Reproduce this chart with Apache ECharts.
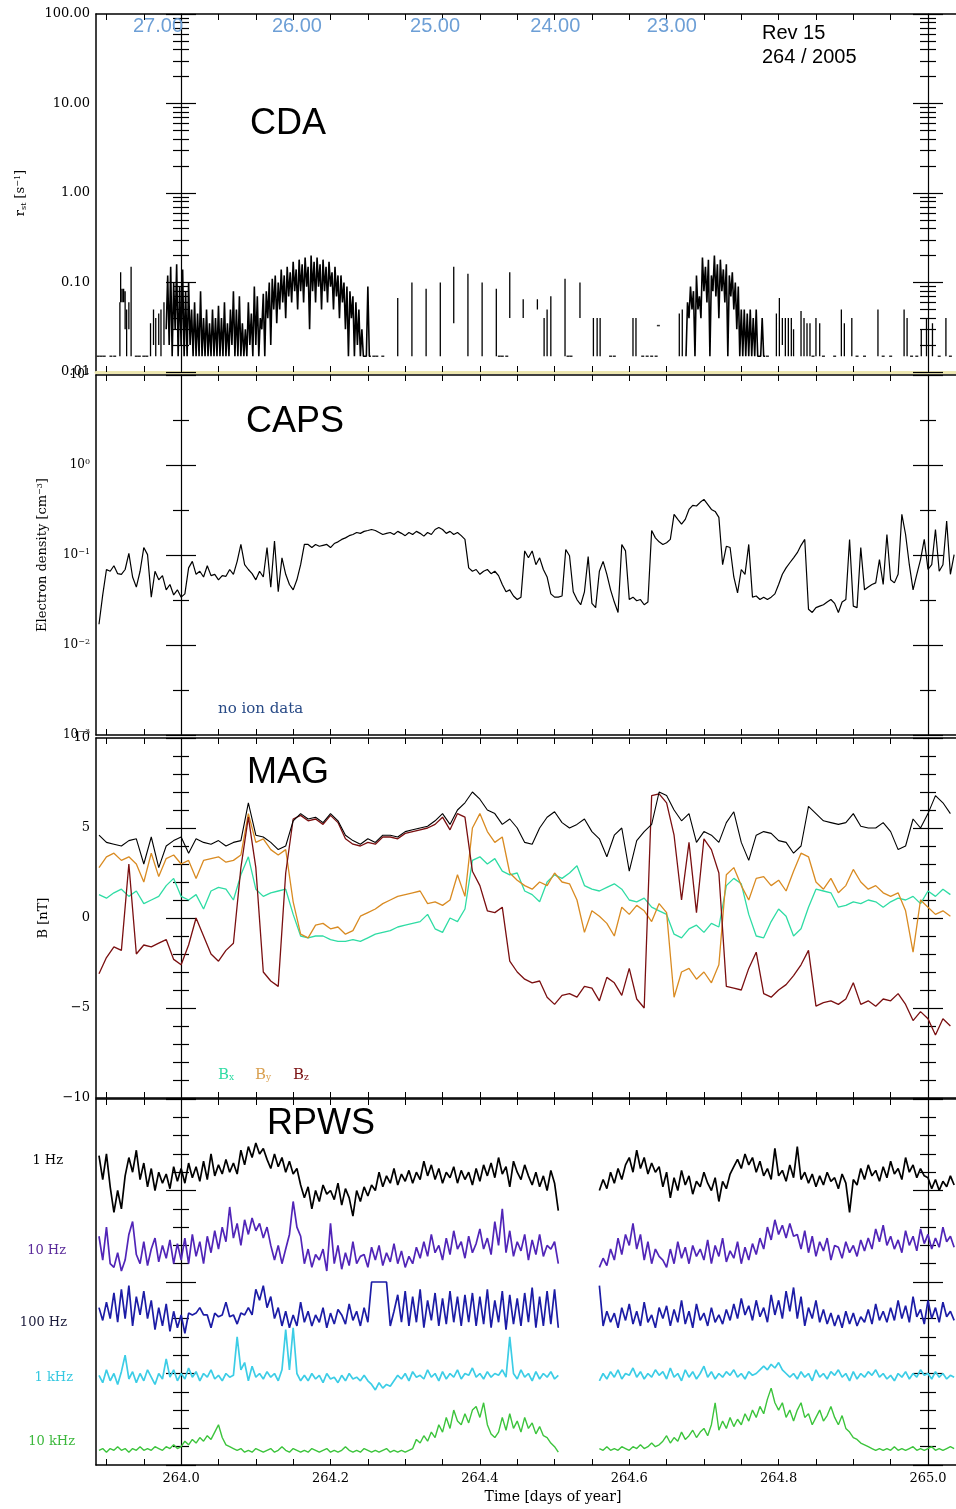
<!DOCTYPE html>
<html><head><meta charset="utf-8">
<script src="https://cdn.jsdelivr.net/npm/echarts@6/dist/echarts.min.js"></script>
<style>html,body{margin:0;padding:0;background:#fff}#c{width:956px;height:1509px}</style>
</head><body><div id="c"></div>
<script>
// ---------------- DATA ----------------
// time axis (days of year 2005)
const xTickDays = [263.90,263.95,264.00,264.05,264.10,264.15,264.20,264.25,264.30,264.35,264.40,264.45,264.50,264.55,264.60,264.65,264.70,264.75,264.80,264.85,264.90,264.95,265.00];
const xLabelDays = [264.0,264.2,264.4,264.6,264.8,265.0];
// radial distance labels along the top
const distLabels = ['27.00','26.00','25.00','24.00','23.00'];
const distDays = [263.969,264.155,264.340,264.501,264.657];

// CDA: isolated spikes (time, low, high)
const cdaSpikeT  = [263.918,263.919,263.921,263.923,263.925,263.927,263.930,263.933,263.959,263.963,263.966,263.970,263.973,263.977,
  264.290,264.309,264.328,264.347,264.365,264.384,264.403,264.422,264.440,264.458,264.477,264.486,264.490,264.495,264.514,264.534,264.552,264.557,264.561,264.605,264.609,264.667,264.671,
  264.797,264.801,264.805,264.809,264.813,264.817,264.820,264.830,264.834,264.838,264.842,264.850,264.855,264.884,264.888,264.898,264.933,264.968,264.972,264.991,264.998,265.006,265.024];
const cdaSpikeLo = [0.015,0.06,0.06,0.06,0.03,0.015,0.03,0.015,0.015,0.02,0.015,0.02,0.015,0.02,
  0.015,0.015,0.015,0.015,0.035,0.015,0.015,0.015,0.04,0.04,0.05,0.015,0.015,0.015,0.015,0.04,0.015,0.015,0.015,0.015,0.015,0.015,0.015,
  0.015,0.015,0.02,0.015,0.015,0.015,0.015,0.015,0.015,0.015,0.015,0.015,0.015,0.015,0.015,0.015,0.015,0.015,0.015,0.015,0.015,0.015,0.015];
const cdaSpikeHi = [0.06,0.13,0.085,0.085,0.08,0.05,0.06,0.15,0.035,0.05,0.04,0.045,0.05,0.06,
  0.067,0.10,0.085,0.10,0.15,0.125,0.10,0.085,0.13,0.065,0.065,0.04,0.05,0.07,0.11,0.10,0.04,0.04,0.04,0.04,0.04,0.045,0.05,
  0.045,0.067,0.04,0.04,0.04,0.04,0.03,0.048,0.04,0.035,0.035,0.04,0.035,0.05,0.035,0.04,0.05,0.05,0.04,0.03,0.04,0.035,0.04];
// CDA: dense burst 1 (pairs of low/high every 0.004 day from 263.980)
const cdaBurst1Start = 263.980, cdaBurst1Step = 0.004;
const cdaBurst1Lo = [0.03,0.02,0.015,0.03,0.015,0.02,0.015,0.015,0.02,0.015,0.015,0.015,0.015,0.015,0.015,0.015,0.015,0.015,0.015,0.015,0.015,0.015,0.02,0.015,0.015,0.015,0.015,0.015,0.02,0.015,0.02,0.015,0.03,0.015,0.04,0.02,0.05,0.035,0.05,0.06,0.04,0.07,0.06,0.08,0.05,0.08,0.06,0.09,0.03,0.08,0.06,0.09,0.05,0.08,0.06,0.09,0.05,0.07,0.04,0.06,0.03,0.015,0.04,0.015,0.02,0.015,0.015,0.015,0.015];
const cdaBurst1Hi = [0.12,0.15,0.10,0.16,0.09,0.14,0.08,0.10,0.05,0.06,0.045,0.08,0.04,0.05,0.035,0.05,0.04,0.055,0.04,0.06,0.035,0.05,0.08,0.05,0.07,0.035,0.03,0.06,0.045,0.09,0.07,0.04,0.075,0.08,0.10,0.11,0.12,0.10,0.14,0.12,0.15,0.13,0.17,0.14,0.18,0.16,0.19,0.15,0.20,0.17,0.19,0.16,0.18,0.15,0.17,0.13,0.15,0.12,0.12,0.10,0.09,0.08,0.07,0.06,0.05,0.03,0.015,0.09,0.015];
// CDA: dense burst 2
const cdaBurst2Start = 264.676, cdaBurst2Step = 0.004;
const cdaBurst2Lo = [0.015,0.04,0.05,0.015,0.05,0.04,0.08,0.06,0.015,0.08,0.07,0.04,0.08,0.06,0.015,0.07,0.05,0.03,0.015,0.015,0.015,0.015,0.015,0.015,0.015,0.015,0.015];
const cdaBurst2Hi = [0.06,0.09,0.08,0.12,0.07,0.19,0.15,0.18,0.12,0.20,0.16,0.18,0.14,0.16,0.12,0.13,0.10,0.09,0.05,0.05,0.045,0.05,0.04,0.05,0.015,0.04,0.015];
// CDA: background-level points
const cdaDotT = [263.889,263.893,263.897,263.906,263.911,263.940,263.944,263.950,263.954,264.258,264.262,264.270,264.426,264.430,264.436,264.518,264.522,264.575,264.580,264.618,264.624,264.630,264.636,264.639,264.785,264.846,264.860,264.875,264.905,264.915,264.940,264.950,264.978,264.985,265.015,265.030];
const cdaDotV = [0.015,0.015,0.015,0.015,0.015,0.015,0.015,0.015,0.015,0.015,0.015,0.015,0.015,0.015,0.015,0.015,0.015,0.015,0.015,0.015,0.015,0.015,0.015,0.033,0.015,0.015,0.015,0.015,0.015,0.015,0.015,0.015,0.015,0.015,0.015,0.015];

// CAPS electron density [cm^-3], sampled every 0.005 day from 263.890
const capsStart = 263.890, capsStep = 0.005;
const capsNe = [0.017,0.036,0.069,0.066,0.076,0.062,0.061,0.069,0.104,0.057,
 0.044,0.066,0.121,0.101,0.034,0.066,0.053,0.059,0.041,0.047,
 0.036,0.041,0.034,0.037,0.072,0.085,0.061,0.066,0.057,0.076,
 0.059,0.061,0.053,0.059,0.058,0.069,0.061,0.085,0.131,0.078,
 0.069,0.062,0.053,0.066,0.057,0.121,0.044,0.143,0.039,0.093,
 0.061,0.047,0.041,0.053,0.078,0.131,0.131,0.121,0.131,0.125,
 0.128,0.131,0.121,0.134,0.140,0.149,0.155,0.164,0.169,0.178,
 0.174,0.183,0.187,0.192,0.187,0.178,0.169,0.174,0.178,0.169,
 0.183,0.174,0.164,0.178,0.169,0.183,0.174,0.162,0.178,0.169,
 0.192,0.202,0.192,0.174,0.183,0.169,0.178,0.164,0.149,0.072,
 0.066,0.069,0.061,0.066,0.069,0.062,0.066,0.059,0.047,0.039,
 0.041,0.035,0.032,0.034,0.111,0.093,0.111,0.078,0.093,0.069,
 0.057,0.037,0.034,0.034,0.035,0.115,0.098,0.039,0.032,0.028,
 0.039,0.096,0.029,0.026,0.066,0.085,0.061,0.041,0.030,0.023,
 0.131,0.111,0.032,0.034,0.031,0.032,0.028,0.030,0.187,0.155,
 0.140,0.131,0.137,0.149,0.283,0.249,0.220,0.249,0.321,0.356,
 0.350,0.385,0.415,0.366,0.321,0.305,0.262,0.078,0.125,0.121,
 0.057,0.038,0.069,0.061,0.131,0.034,0.035,0.032,0.034,0.032,
 0.034,0.037,0.047,0.061,0.072,0.082,0.093,0.106,0.128,0.149,
 0.025,0.023,0.026,0.027,0.028,0.030,0.032,0.029,0.023,0.030,
 0.032,0.149,0.027,0.026,0.121,0.041,0.044,0.047,0.049,0.089,
 0.047,0.169,0.053,0.049,0.061,0.283,0.169,0.078,0.041,0.061,
 0.089,0.149,0.069,0.078,0.192,0.066,0.078,0.238,0.061,0.101];

// MAG [nT], sampled every 0.01 day from 263.890
const magStart = 263.890, magStep = 0.01;
const magBt = [4.6,4.2,4.1,4.0,4.3,4.4,3.0,4.5,2.8,4.0, 4.3,4.5,3.6,4.4,4.2,4.1,4.3,4.0,4.2,4.3,
 6.4,4.6,4.5,4.2,3.8,4.0,5.4,5.8,5.5,5.6, 5.3,5.8,5.4,4.6,4.3,4.1,4.4,4.2,4.6,4.6,
 4.5,4.8,4.9,5.0,5.1,5.4,5.8,5.2,6.0,6.4, 7.0,6.6,6.0,5.8,5.2,5.5,5.0,4.2,4.1,5.0,
 5.6,5.9,5.3,5.0,5.2,5.5,4.8,4.4,3.4,4.6, 5.0,2.6,4.3,4.8,5.2,7.0,6.8,6.0,5.4,5.8,
 4.2,4.8,4.6,4.2,5.3,5.9,4.2,3.2,4.6,4.8, 4.7,4.3,4.2,3.6,4.0,6.2,5.8,5.4,5.3,5.2,
 5.3,5.8,5.1,5.0,5.0,5.3,4.8,3.8,4.0,5.5, 5.0,5.8,6.8,6.4,5.8];
const magBx = [1.3,1.1,1.4,1.6,1.2,1.5,0.8,1.0,1.2,1.8, 2.2,1.2,1.0,1.3,0.5,1.5,1.7,1.6,1.0,2.4,
 3.4,1.6,1.2,1.4,1.5,1.6,0.2,-1.0,-1.1,-1.0, -1.0,-1.2,-1.3,-1.3,-1.2,-1.3,-1.1,-0.9,-0.8,-0.7,
 -0.5,-0.4,-0.3,-0.2,0.2,-0.6,-0.8,0.0,-0.2,0.5, 3.2,3.4,3.0,3.3,2.6,2.4,2.5,1.5,1.3,0.9,
 2.0,2.4,2.2,2.5,2.9,1.8,1.6,1.5,1.7,1.9, 1.6,1.0,0.9,1.1,0.6,0.4,0.2,-0.9,-1.1,-0.6,
 -0.4,-0.8,-0.3,-0.5,1.8,2.2,1.9,0.2,-1.0,-1.1, -0.2,0.5,0.1,-1.0,-0.6,0.6,1.6,1.5,1.4,0.6,
 0.7,0.9,0.8,1.0,0.9,0.6,0.9,1.1,1.0,1.2, 0.8,1.5,1.2,1.6,1.3];
const magBy = [2.8,3.4,3.6,3.2,3.4,3.0,2.0,3.6,2.3,3.3, 3.5,3.0,3.2,2.2,3.2,3.3,3.4,3.1,3.2,3.5,
 5.8,4.2,4.4,3.8,3.5,3.8,0.9,-0.9,-1.1,-0.4, -0.3,-0.6,-0.5,-0.9,-0.7,0.1,0.3,0.5,0.8,1.0,
 1.2,1.3,1.4,1.5,0.8,0.9,0.7,1.0,2.4,1.2, 5.0,5.8,4.8,4.2,4.5,2.5,2.1,1.8,1.6,2.0,
 1.8,2.5,2.0,1.9,1.0,-0.8,0.4,0.1,-0.3,-1.0, 0.6,0.2,0.7,0.4,-0.2,0.8,0.3,-4.4,-3.0,-2.8,
 -3.4,-3.0,-3.6,-2.6,2.4,2.8,1.8,1.0,2.2,2.3, 1.8,2.1,1.5,2.6,3.6,3.4,2.0,1.6,2.2,1.4,
 1.8,2.7,2.0,1.6,1.8,1.4,1.2,1.4,0.4,-1.9, 1.0,0.6,0.2,0.4,0.1];
const magBz = [-3.1,-2.2,-1.6,-1.8,3.0,-2.0,-1.5,-1.6,-1.4,-1.2, -2.3,-2.6,-1.5,0.0,-1.0,-2.0,-2.4,-1.8,-1.4,2.8,
 5.6,2.8,-3.0,-3.5,-3.8,2.5,5.5,5.7,5.4,5.5, 5.2,5.7,5.3,4.4,4.1,4.0,4.2,4.1,4.5,4.5,
 4.4,4.7,4.8,4.9,5.0,5.2,5.6,4.9,5.8,5.6, 2.6,1.8,0.4,0.3,0.6,-2.4,-3.0,-3.4,-3.6,-3.5,
 -4.4,-4.8,-4.3,-4.2,-4.4,-3.8,-3.9,-4.6,-3.3,-3.6, -4.3,-2.8,-4.5,-5.0,6.8,6.9,6.4,4.6,1.0,4.2,
 0.3,4.4,3.8,2.5,-3.8,-3.9,-4.0,-2.8,-1.9,-4.2, -4.4,-4.0,-3.7,-3.2,-2.6,-1.8,-4.9,-4.7,-4.6,-4.8,
 -4.5,-3.6,-4.8,-4.6,-4.9,-4.5,-4.6,-4.2,-4.8,-5.7, -5.2,-5.6,-6.5,-5.6,-6.0];

// RPWS stacked channels (arbitrary offset units), sampled every 0.005 day from 263.890; null = data gap
const rpwsStart = 263.890, rpwsStep = 0.005;
const rpwsChannels = ['1 Hz','10 Hz','100 Hz','1 kHz','10 kHz'];
const rpws1Hz = [16.9,15.6,17.0,15.2, 13.8,15.0,14.0,15.8, 16.8,16.0,17.2,15.6,16.5,
 15.2,16.2,15.0,16.0,15.4,15.9,15.1,16.3,15.5, 16.2,15.4,16.5,15.7,16.3,15.5,
 16.6,15.6,17.0,15.8,16.4,15.9,16.7,16.0,16.5,15.9, 17.2,16.4,17.4,16.8,17.6,17.0,17.3,16.7,
 16.2,17.0,16.3,16.8,16.0,16.6,15.9,16.2, 15.3,14.6,15.2,14.0,15.0,14.4,15.3,14.8,15.0,
 14.5,15.4,14.2,15.1,14.6,13.6,15.0,14.4,15.2,14.7,15.3, 15.0,16.0,15.2,15.8,15.4,16.2,15.3,15.9,15.5,16.1,15.4,16.0,15.6,
 16.6,15.8,16.4,15.6,16.2,15.4,16.0,15.7,16.3, 15.4,16.1,15.6,16.0,15.3,16.2,15.5,16.4,15.8,
 16.5,15.7,16.8,15.9,16.3,15.2,16.6,16.0,15.6,16.4,15.8, 15.3,16.0,15.2,15.8,15.0,16.1,15.4,13.9,
 null,null,null,null,null,null,null,null,null,null,
 15.0,15.6,15.1,16.0,15.4,16.2,15.6,16.4, 16.8,16.0,17.2,16.2,16.8,15.9,16.5,16.0,16.3,
 15.2,16.0,14.6,15.7,15.0,16.1,15.3,15.8,14.8,15.5,15.2,16.0,15.4, 15.0,15.7,14.4,15.5,15.1,15.9,16.3,
 16.7,16.2,17.0,16.4,16.8,16.0,16.6,15.8, 16.2,15.6,17.3,15.8,16.1,15.5,16.4,15.7,17.4,15.6,16.0,
 15.4,15.9,15.2,15.8,15.3,16.0,15.5,15.7,15.1,15.9,15.4,13.8,15.6,15.3,
 16.2,15.6,16.4,15.8,16.1,15.5,16.3,15.7,16.6,15.9,16.2,15.6,16.8,16.0,16.4,15.7,16.2,15.8,
 15.7,15.1,15.6,15.0,15.5,15.2,15.8,15.3];
const rpws10Hz = [12.5,11.2,13.0,11.0, 10.8,11.6,10.6,11.2, 12.6,13.3,11.5,
 11.0,12.2,10.9,11.8,12.4,11.1,12.0,11.3,12.3,11.0,12.1, 11.2,12.4,11.0,12.6,11.4,12.2,11.0,12.5,11.6,
 12.8,11.8,13.0,12.2,14.1,12.4,13.2,12.0, 13.4,12.6,13.5,12.8,13.2,12.4,13.0,12.0,
 11.2,12.0,11.0,11.8,12.6, 14.4,13.0,12.5, 11.0,11.8,10.8,11.5,11.2,
 11.8,10.6,13.2,11.0,12.0,10.7,11.6,10.9,12.2,11.0,11.4,
 11.5,10.8,11.9,11.2,12.0,10.9,11.6,11.1,12.1,11.0,11.7,10.8,11.4,11.0,11.9,11.3,
 12.2,11.4,12.6,11.6,12.0,11.2,12.4,11.5,12.8,11.8,12.2,11.3,12.5,11.6,12.1,
 12.9,11.8,12.4,11.5,13.3,12.0,14.0,11.6,12.8,11.4,12.2,11.7,12.6,11.2,
 12.3,11.5,12.6,11.4,12.0,11.8,12.2,11.0,
 null,null,null,null,null,null,null,null,null,null,
 10.8,11.3,10.9,11.8,11.2,12.4,11.5,12.6, 12.0,13.2,11.8,12.6,11.2,12.2,11.0,11.8,11.4,
 11.2,10.8,11.8,11.0,12.2,11.3,11.9,11.0,12.0,11.4, 11.8,11.2,12.3,11.0,12.0,11.4,12.4,11.1,11.7,
 11.3,12.2,11.0,11.9,11.2,12.1,11.5,12.4,11.8, 13.0,12.3,13.4,12.6,13.1,12.4,13.2,12.5,
 12.6,11.8,12.8,11.6,12.5,11.4,12.2,11.7,12.4,11.2,12.0, 11.9,11.3,12.2,11.6,12.0,11.4,12.3,11.7,
 12.4,11.8,12.9,12.2,13.1,12.0,12.5,11.8,
 12.3,11.6,12.8,12.0,12.5,11.7,12.9,12.1,12.6,11.8,12.4,11.9,13.0,12.2,12.5,11.9];
const rpws100Hz = [8.6,7.9,8.9,8.0, 9.4,7.8,9.6,8.0,9.8,7.6,9.2,8.2,9.5,
 8.0,9.0,7.4,8.6,7.6,8.8,7.3,8.4,7.5,8.2,7.2,8.3,
 8.2,8.3,8.6,8.2,8.2,7.5,8.3,8.1,8.2,8.9,8.1,8.2,7.7,8.3,8.2,8.6,8.2,
 9.6,9.0,9.8,8.6,9.2, 8.0,8.6,7.6,8.4,7.5,8.2,7.6,8.9,7.8, 8.4,7.6,8.2,7.8,8.6,7.5,8.3,7.7,8.5,
 8.2,7.7,8.8,7.9,8.4,7.6,8.6,7.8,10.0,10.0, 10.0,10.0,10.0,7.6,
 8.4,9.3,7.8,9.5,7.6,9.2,7.8,9.6,7.5,9.0,7.9,9.4,7.6,9.1,7.7,9.5,7.8,9.2,7.6,9.3,
 7.8,9.4,7.6,9.2,7.7,9.6,7.5,9.0,7.8,9.5,7.4,9.3,7.7,9.1,7.6,9.4,7.8,9.7,7.5,9.2,7.6,9.5,7.7,9.6,7.5,
 null,null,null,null,null,null,null,null,null,null,
 9.8,7.6,8.4,7.8,8.3,7.5,8.6,7.9,8.8,7.7,8.4,7.6,8.9,7.8,8.2,7.5,8.6,
 8.0,8.7,7.6,8.5,7.8,9.0,7.7,8.4,7.5,8.8,7.9,8.3,7.6,8.6,7.8,8.2,7.7,
 8.5,7.9,8.8,8.0,9.1,8.2,8.7,7.9,9.0,8.1,8.6,7.8,9.3,8.2,9.0,8.0,
 9.5,8.4,9.7,8.0,9.2,7.6,
 8.6,8.0,9.0,7.8,8.5,7.7,8.3,7.6,8.2,7.5,8.4,7.7,8.3,7.6,8.1,7.8,8.5,7.7,8.8,7.9,8.4,7.8,
 8.6,7.9,9.0,8.0,8.7,7.8,9.2,8.1,8.5,7.7,9.0,8.0,8.6,7.8,8.9,8.1,8.4,7.9];
const rpws1kHz = [4.9,4.5,5.2,4.6,5.0,4.4,5.1,6.0,
 4.7,5.1,4.5,5.0,4.6,5.2,4.8,4.4,5.0,4.7,5.8,
 4.8,5.2,4.6,5.0,4.7,5.3,4.8,5.1,4.6,5.0,4.8,5.2,4.7,4.9,4.6,5.0,4.8,4.9,
 7.0,5.2,5.6,4.6,5.4,4.8, 5.0,4.7,5.1,4.8,5.0,4.6,5.2,7.4, 5.2,7.5,5.0,4.6,
 4.9,4.6,5.0,4.7,4.9,4.5,5.0,4.7,4.8,4.5,4.9,4.6,5.0,4.7,4.8,4.6,4.9,4.6,
 4.4,4.1,4.5,4.2,4.4,4.3,
 4.6,4.9,4.7,5.0,4.6,5.1,4.8,4.9,4.7,5.2,4.8,5.0,4.6,5.1,4.7,5.0,4.8,5.2,4.7,5.0,4.9,5.3,4.8,5.0,4.7,5.1,4.8,5.0,4.9,5.2,4.8,7.0,
 5.0,4.7,5.2,4.8,5.0,4.6,5.1,4.7,5.0,4.8,5.1,4.7,4.9,
 null,null,null,null,null,null,null,null,null,null,
 4.6,5.0,4.7,5.1,4.8,5.2,4.7,5.0,4.9,5.3,4.8,5.1,4.7,5.0,4.8,5.2,4.9,
 5.1,4.7,5.3,4.8,5.0,4.6,5.2,4.8,5.1,4.7,5.0,5.4,4.8,5.1,4.7,5.0,4.8,5.1,
 4.9,5.2,4.8,5.0,4.7,5.1,4.9,5.0,5.2, 5.4,5.2,5.5,5.3,5.6,5.2,5.0,4.8,
 5.0,4.7,5.1,4.8,5.0,4.6,5.2,4.8,5.0,4.7,5.1,4.9,5.2,4.8,5.0,4.6,5.1,4.7,5.0,4.8,5.1,4.9,
 5.2,4.8,5.0,4.7,4.9,4.6,5.0,4.8,5.1,4.7,5.0,4.8,5.2,4.9,5.0,4.7,5.1,4.8,5.0,4.7,4.9,4.8];
const rpws10kHz = [0.8,0.9,0.7,0.9,0.8,1.0,0.8,0.9,0.7,0.9,0.8,1.0,0.8,0.9,0.8,1.0,0.9,0.8,1.0,0.9,1.1,0.9,1.0,
 1.3,1.1,1.4,1.2,1.5,1.3,1.6,1.4,1.8,2.2, 1.5,1.1,1.0,0.9,0.8,
 0.9,0.7,0.8,0.7,0.9,0.8,0.7,0.8,0.9,0.7,0.8,1.0,0.8,0.7,0.9,0.8,0.7,0.8,0.7,0.9,0.8,0.7,0.8,0.9,
 0.7,0.8,0.7,0.8,1.0,0.8,0.7,0.8,0.7,0.9,0.8,0.7,0.8,0.7,0.8,0.9,0.7,0.8,0.7,0.8,0.7,0.8,0.9,
 1.4,1.2,1.6,1.3,1.8,1.5,2.2,1.8, 2.6,2.0,3.0,2.4,2.2,2.8,2.3,3.0,3.2,2.6,3.4,
 2.2,1.7,1.5,1.8,2.6,1.9,2.8,2.0, 2.4,1.8,2.6,2.0,2.3,1.7,2.1,1.6,1.5,1.2,1.0,0.7,
 null,null,null,null,null,null,null,null,null,null,
 0.9,0.8,1.0,0.8,0.9,0.8,1.0,0.9,0.8,1.0,0.9,1.1,0.9,1.0,1.2,1.0,1.1,
 1.3,1.6,1.2,1.5,1.3,1.8,1.4,1.6,1.9,1.5,1.8,
 2.0,1.6,2.2,3.4,1.9,2.4,2.0,2.6,2.1,2.5,2.2,2.8,2.4,3.0,2.6,
 3.2,2.8,3.6,4.2,3.4,3.0,3.4,2.6,3.0,
 2.4,3.0,3.4,2.6,2.8,2.2,2.6,3.0,2.4,2.7,3.2,2.6,
 2.2,2.7,2.0,1.8,1.5,1.4,1.2,1.1,
 1.0,0.9,0.8,0.9,0.8,0.9,0.8,1.0,0.8,0.9,0.8,0.9,1.0,0.8,0.9,0.8,0.9,1.0,0.8,0.9,0.8,0.9,1.0,0.9];

// tick value lists for the y axes
const cdaMajor = [0.01,0.1,1,10,100];
const cdaMinor = [0.02,0.03,0.04,0.05,0.06,0.07,0.08,0.09,0.2,0.3,0.4,0.5,0.6,0.7,0.8,0.9,2,3,4,5,6,7,8,9,20,30,40,50,60,70,80,90];
const capsMajor = [0.001,0.01,0.1,1,10];
const capsMinor = [0.00316,0.0316,0.316,3.16];
const magMajor = [-10,-5,0,5,10];
const magMinor = [-9,-8,-7,-6,-4,-3,-2,-1,1,2,3,4,6,7,8,9];
const rpwsMajor = [0,5,10,15,20];
const rpwsMinor = [1,2,3,4,6,7,8,9,11,12,13,14,16,17,18,19];

// ---------------- BUILD ----------------
const XMIN = 263.886, XMAX = 265.0375;
const SERIF = '"DejaVu Serif", serif';
const SANS = '"Liberation Sans", Arial, sans-serif';

function regular(start, step, vals) {
  return vals.map((v, i) => [start + i * step, v === null ? '-' : v]);
}
function spikes(ts, lo, hi) {
  const d = [];
  ts.forEach((t, i) => { d.push([t, lo[i]], [t, hi[i]], [t, '-']); });
  return d;
}
function burst(start, step, lo, hi) {
  const d = [];
  lo.forEach((l, i) => { const t = start + i * step; d.push([t, l], [t + step / 2, hi[i]]); });
  d.push([start + lo.length * step, '-']);
  return d;
}

const grids = [
  {left: 96, right: 0, top: 14, height: 358},
  {left: 96, right: 0, top: 375, height: 360},
  {left: 96, right: 0, top: 738, height: 360},
  {left: 96, right: 0, top: 1099, height: 366}
];

const xAxes = [], yAxes = [];
function addX(o) { xAxes.push(Object.assign({type: 'value', min: XMIN, max: XMAX, splitLine: {show: false}}, o)); return xAxes.length - 1; }
function addY(o) { yAxes.push(Object.assign({splitLine: {show: false}}, o)); return yAxes.length - 1; }

const mainX = [];
for (let g = 0; g < 4; g++) {
  mainX.push(addX({
    gridIndex: g, position: 'bottom',
    axisLine: {show: true, onZero: false, lineStyle: {color: g === 0 ? '#ece6b0' : '#000', width: g === 0 ? 3 : 1.5}},
    axisTick: {show: true, inside: true, length: 6, customValues: xTickDays, lineStyle: {color: '#000'}},
    axisLabel: g === 3 ? {show: true, customValues: xLabelDays, formatter: v => v.toFixed(1), fontFamily: SERIF, fontSize: 13, color: '#000', margin: 7} : {show: false}
  }));
  addX({
    gridIndex: g, position: 'top',
    axisLine: {show: true, onZero: false, lineStyle: {color: '#000', width: 1.5}},
    axisTick: {show: true, inside: true, length: 6, customValues: xTickDays, lineStyle: {color: '#000'}},
    axisLabel: {show: false}
  });
}
// radial distance labels on top of CDA panel
addX({
  gridIndex: 0, position: 'top', axisLine: {show: false}, axisTick: {show: false},
  axisLabel: {show: true, inside: true, customValues: distDays, margin: 2,
    formatter: v => distLabels[distDays.findIndex(d => Math.abs(d - v) < 1e-6)],
    color: '#6d9fd6', fontSize: 20, fontFamily: SANS}
});

const panelY = [
  {type: 'log', min: 0.01, max: 100, major: cdaMajor, minor: cdaMinor},
  {type: 'log', min: 0.001, max: 10, major: capsMajor, minor: capsMinor},
  {type: 'value', min: -10, max: 10, major: magMajor, minor: magMinor},
  {type: 'value', min: 0, max: 20, major: rpwsMajor, minor: rpwsMinor}
];
const supRich = {
  sup: {fontSize: 8, fontFamily: SERIF, verticalAlign: 'top', padding: [0, 0, 6, 0]},
  sub: {fontSize: 8, fontFamily: SERIF, verticalAlign: 'bottom', padding: [5, 0, 0, 0]}
};
const mainY = [];
for (let g = 0; g < 4; g++) {
  const p = panelY[g];
  const base = {gridIndex: g, type: p.type, min: p.min, max: p.max};
  let label = {show: false};
  let nameOpt = {};
  if (g === 0) {
    label = {show: true, customValues: p.major, formatter: v => v.toFixed(2), fontFamily: SERIF, fontSize: 13, color: '#000', margin: 6};
    nameOpt = {name: 'r{sub|st} [s{sup|−1}]', nameLocation: 'middle', nameRotate: 90, nameGap: 68,
      nameTextStyle: {fontFamily: SERIF, fontSize: 13, color: '#000', rich: supRich}};
  } else if (g === 1) {
    label = {show: true, customValues: p.major, formatter: v => '10{sup|' + String(Math.round(Math.log10(v))).replace('-', '−') + '}',
      fontFamily: SERIF, fontSize: 12, color: '#000', margin: 6, rich: supRich};
    nameOpt = {name: 'Electron density [cm{sup|−3}]', nameLocation: 'middle', nameRotate: 90, nameGap: 46,
      nameTextStyle: {fontFamily: SERIF, fontSize: 13, color: '#000', rich: supRich}};
  } else if (g === 2) {
    label = {show: true, customValues: p.major, formatter: v => (v < 0 ? '−' + (-v) : String(v)), fontFamily: SERIF, fontSize: 13, color: '#000', margin: 6};
    nameOpt = {name: 'B [nT]', nameLocation: 'middle', nameRotate: 90, nameGap: 46,
      nameTextStyle: {fontFamily: SERIF, fontSize: 13, color: '#000'}};
  }
  mainY.push(addY(Object.assign({}, base, nameOpt, {
    position: 'left', offset: 0,
    axisLine: {show: true, onZero: false, lineStyle: {color: '#000', width: 1.5}},
    axisTick: {show: false}, axisLabel: label
  })));
  // vertical reference lines at day 264.0 (x=181) and 265.0 (x=928) with crossing ticks
  const specs = [
    ['left', -85, null, 0, true], ['left', -70, p.major, 30, false], ['left', -77, p.minor, 16, false],
    ['right', -28, null, 0, true], ['right', -13, p.major, 30, false], ['right', -20, p.minor, 16, false]
  ];
  specs.forEach(s => addY(Object.assign({}, base, {
    position: s[0], offset: s[1],
    axisLine: {show: s[4], onZero: false, lineStyle: {color: '#000', width: 1.2}},
    axisTick: s[2] ? {show: true, inside: true, length: s[3], customValues: s[2], lineStyle: {color: '#000', width: 1.2}} : {show: false},
    axisLabel: {show: false}
  })));
}

function line(g, data, color, width) {
  return {type: 'line', xAxisIndex: mainX[g], yAxisIndex: mainY[g], data, symbol: 'none', showSymbol: false,
    connectNulls: false, animation: false, silent: true, lineStyle: {color, width}, z: 3};
}

const series = [
  line(0, spikes(cdaSpikeT, cdaSpikeLo, cdaSpikeHi), '#000', 1.3),
  line(0, burst(cdaBurst1Start, cdaBurst1Step, cdaBurst1Lo, cdaBurst1Hi), '#000', 1.6),
  line(0, burst(cdaBurst2Start, cdaBurst2Step, cdaBurst2Lo, cdaBurst2Hi), '#000', 1.6),
  {type: 'scatter', xAxisIndex: mainX[0], yAxisIndex: mainY[0], data: cdaDotT.map((t, i) => [t, cdaDotV[i]]),
    symbol: 'rect', symbolSize: [3, 1.5], itemStyle: {color: '#000'}, animation: false, silent: true},
  line(1, regular(capsStart, capsStep, capsNe), '#000', 1.2),
  line(2, regular(magStart, magStep, magBx), '#2fdca4', 1.3),
  line(2, regular(magStart, magStep, magBy), '#d98b22', 1.3),
  line(2, regular(magStart, magStep, magBz), '#7a0f10', 1.3),
  line(2, regular(magStart, magStep, magBt), '#000', 1.1),
  line(3, regular(rpwsStart, rpwsStep, rpws1Hz), '#000', 1.7),
  line(3, regular(rpwsStart, rpwsStep, rpws10Hz), '#5125b8', 1.7),
  line(3, regular(rpwsStart, rpwsStep, rpws100Hz), '#1c1ca6', 1.7),
  line(3, regular(rpwsStart, rpwsStep, rpws1kHz), '#3ccde6', 1.7),
  line(3, regular(rpwsStart, rpwsStep, rpws10kHz), '#3cc43c', 1.4)
];

function txt(x, y, text, font, fill, align, rich) {
  const st = {text, font, fill, textAlign: align || 'left', textVerticalAlign: 'middle'};
  if (rich) st.rich = rich;
  return {type: 'text', x, y, silent: true, style: st, z: 10};
}
const chanColors = ['#000', '#5a2a9a', '#1a1a3a', '#35c8e0', '#3cb83c'];
const chanPos = [[63, 1161], [66, 1251], [67, 1323], [73, 1378], [75, 1442]];
const subRich = {s: {fontSize: 9, fontFamily: SERIF, verticalAlign: 'bottom', padding: [6, 0, 0, 0]}};
const graphic = [
  txt(250, 124, 'CDA', '36px ' + SANS, '#000'),
  txt(246, 422, 'CAPS', '36px ' + SANS, '#000'),
  txt(247, 773, 'MAG', '36px ' + SANS, '#000'),
  txt(267, 1124, 'RPWS', '36px ' + SANS, '#000'),
  txt(762, 33, 'Rev 15', '20px ' + SANS, '#000'),
  txt(762, 57, '264 / 2005', '20px ' + SANS, '#000'),
  txt(218, 709, 'no ion data', '15px ' + SERIF, '#284a86'),
  txt(218, 1075, 'B{s|x}', '15px ' + SERIF, '#2fdca4', 'left', subRich),
  txt(255, 1075, 'B{s|y}', '15px ' + SERIF, '#d9a050', 'left', subRich),
  txt(293, 1075, 'B{s|z}', '15px ' + SERIF, '#7a0f10', 'left', subRich),
  txt(553, 1497, 'Time [days of year]', '14px ' + SERIF, '#000', 'center')
].concat(rpwsChannels.map((c, i) => txt(chanPos[i][0], chanPos[i][1], c, '13px ' + SERIF, chanColors[i], 'right')));

const chart = echarts.init(document.getElementById('c'), null, {renderer: 'canvas'});
chart.setOption({
  backgroundColor: '#fff',
  animation: false,
  grid: grids,
  xAxis: xAxes,
  yAxis: yAxes,
  series,
  graphic
});
</script></body></html>
